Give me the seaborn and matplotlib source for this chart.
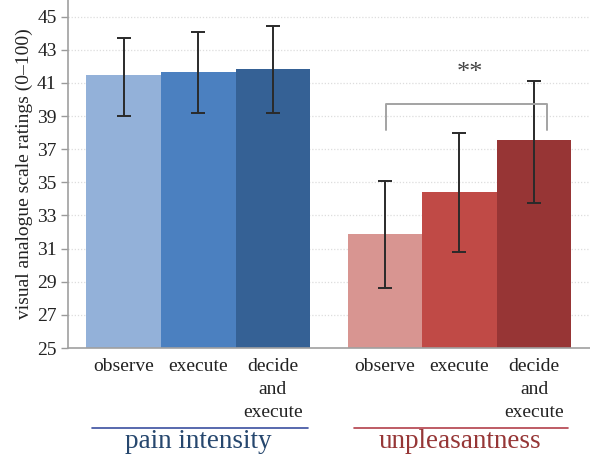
import matplotlib
matplotlib.use("Agg")
import matplotlib.pyplot as plt
import matplotlib.transforms as mtransforms
import pandas as pd
import seaborn as sns

conditions = ["observe", "execute", "decide\nand\nexecute"]
groups = ["pain intensity", "unpleasantness"]

pain_mean = [41.45, 41.63, 41.83]
pain_lo = [38.98, 39.16, 39.16]
pain_hi = [43.73, 44.04, 44.42]

unpl_mean = [31.89, 34.42, 37.57]
unpl_lo = [28.63, 30.78, 33.78]
unpl_hi = [35.06, 38.00, 41.10]

yticks = list(range(25, 46, 2))

blues = ["#93b1d9", "#4b80c0", "#356195"]
reds = ["#d89591", "#c04a46", "#973535"]

# bar positions: width 1, half-bar gap between the two groups
pos = [0.75, 1.75, 2.75, 4.25, 5.25, 6.25]

df = pd.DataFrame({
    "x": pos,
    "cond": [f"p{i}" for i in range(3)] + [f"u{i}" for i in range(3)],
    "mean": pain_mean + unpl_mean,
    "lo": pain_lo + unpl_lo,
    "hi": pain_hi + unpl_hi,
})

sns.set_theme(style="white")
plt.rcParams["font.family"] = ["Liberation Serif", "DejaVu Serif"]

fig = plt.figure(figsize=(5.9, 4.58), dpi=100)
ax = fig.add_axes([0.115, 0.24, 0.885, 0.76])

sns.barplot(data=df, x="x", y="mean", hue="cond", palette=blues + reds,
            native_scale=True, width=1.0, dodge=False, errorbar=None,
            legend=False, ax=ax, saturation=1, linewidth=0, zorder=2)

ax.errorbar(df["x"], df["mean"],
            yerr=[df["mean"] - df["lo"], df["hi"] - df["mean"]],
            fmt="none", ecolor="#2a2a2a", elinewidth=1.4, capsize=5,
            capthick=1.4, zorder=3)

ax.set_xlim(0, 7)
ax.set_ylim(25, 46)
ax.set_yticks(yticks)
ax.set_yticklabels([str(t) for t in yticks], fontsize=14)
ax.set_xticks(pos)
ax.set_xticklabels(conditions * 2, fontsize=14, linespacing=1.45, va="top")
ax.tick_params(axis="x", length=0, pad=7, colors="#222222")
ax.tick_params(axis="y", length=5, width=1, color="#9a9a9a", pad=3,
               labelcolor="#222222", left=True)
ax.set_xlabel("")
ax.set_ylabel("visual analogue scale ratings (0\u2013100)", fontsize=14,
              color="#222222", labelpad=3)

for t in yticks:
    ax.axhline(t, color="#dddddd", lw=0.9, ls=(0, (1, 1.5)), zorder=0)

for side in ["top", "right"]:
    ax.spines[side].set_visible(False)
for side in ["left", "bottom"]:
    ax.spines[side].set_color("#a0a0a0")
    ax.spines[side].set_linewidth(1.2)

# significance bracket
ax.plot([4.27, 4.27, 6.42, 6.42], [38.17, 39.74, 39.74, 38.17],
        color="#a3a3a3", lw=1.4, zorder=4)
ax.text(5.39, 41.6, "**", ha="center", va="center", fontsize=19,
        color="#444444")

# group labels under the axis
trans = mtransforms.blended_transform_factory(ax.transData, ax.transAxes)
ax.plot([0.32, 3.22], [-0.23, -0.23], transform=trans, clip_on=False,
        color="#3b4f9f", lw=1.2)
ax.plot([3.83, 6.71], [-0.23, -0.23], transform=trans, clip_on=False,
        color="#b3404a", lw=1.2)
ax.text(1.75, -0.288, groups[0], transform=trans, ha="center", va="baseline",
        fontsize=19.5, color="#26476e")
ax.text(5.25, -0.288, groups[1], transform=trans, ha="center", va="baseline",
        fontsize=19.5, color="#963636")

fig.savefig("out.png", dpi=100)
